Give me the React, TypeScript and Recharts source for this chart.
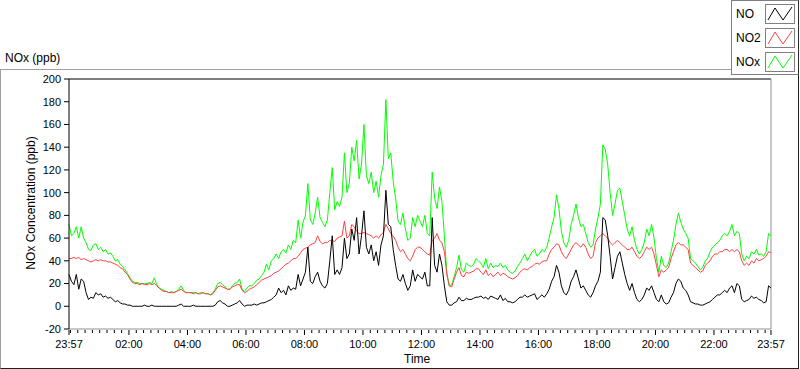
import React from 'react';
import { LineChart, Line, XAxis, YAxis, ReferenceLine } from 'recharts';

// minutes after 23:57, one reading every 5 min
const NO = [
  28, 22, 19, 28, 15, 24, 22, 12, 6, 8, 7, 12,
  10, 11, 8, 9, 7, 8, 6, 4, 5, 3, 2, 2,
  1, 1, 0, 0, 0, 0, 0, 1, 0, 0, 1, 0,
  0, 0, 0, 0, 0, 0, 0, 0, 0, 1, 2, 0,
  0, 0, 0, 1, 0, 0, 0, 0, 0, 0, 0, 0,
  1, 4, 5, 3, 2, 0, 0, 1, 2, 3, 5, 2,
  0, 1, 1, 1, 2, 1, 2, 3, 3, 4, 5, 6,
  8, 10, 16, 12, 14, 10, 18, 14, 16, 15, 28, 18,
  24, 30, 52, 22, 20, 26, 30, 22, 18, 16, 20, 40,
  62, 28, 32, 28, 34, 60, 42, 46, 68, 58, 78, 46,
  62, 84, 52, 46, 54, 40, 48, 36, 54, 62, 102, 72,
  70, 50, 36, 24, 22, 28, 20, 14, 18, 32, 22, 28,
  26, 24, 30, 18, 18, 78, 36, 30, 46, 36, 18, 4,
  1, 1, 3, 4, 8, 5, 5, 7, 6, 6, 7, 8,
  8, 9, 7, 8, 6, 9, 8, 7, 6, 10, 5, 7,
  4, 4, 3, 4, 6, 8, 8, 10, 8, 9, 10, 11,
  6, 8, 10, 8, 11, 15, 22, 26, 36, 30, 18, 12,
  10, 14, 22, 26, 32, 24, 16, 18, 14, 10, 8, 12,
  18, 22, 30, 78, 76, 62, 44, 24, 34, 44, 48, 38,
  28, 20, 14, 20, 12, 6, 4, 6, 10, 16, 14, 18,
  12, 6, 4, 10, 4, 2, 3, 8, 12, 20, 24, 22,
  16, 14, 10, 4, 3, 2, 2, 1, 1, 2, 3, 4,
  6, 8, 10, 10, 12, 14, 12, 16, 18, 12, 20, 18,
  6, 4, 5, 6, 9, 7, 8, 6, 5, 3, 4, 18, 16
];

const NO2 = [
  42, 42, 43, 42, 43, 41, 42, 41, 40, 39, 40, 41,
  40, 41, 40, 40, 39, 39, 38, 37, 36, 34, 33, 30,
  28, 24, 21, 20, 20, 19, 20, 19, 19, 20, 19, 20,
  18, 16, 14, 13, 13, 12, 12, 12, 13, 14, 15, 13,
  12, 12, 12, 11, 12, 11, 11, 12, 11, 11, 10, 11,
  14, 17, 18, 17, 16, 15, 15, 17, 18, 19, 19, 14,
  12, 13, 15, 16, 17, 19, 21, 23, 24, 25, 26, 27,
  29, 30, 31, 33, 35, 37, 38, 40, 42, 42, 44, 47,
  50, 51, 52, 54, 55, 56, 62, 57, 55, 56, 56, 58,
  58, 57, 60, 61, 62, 75, 60, 62, 72, 70, 66, 64,
  64, 65, 64, 63, 62, 60, 62, 60, 63, 65, 72, 68,
  64, 62, 58, 52, 48, 50, 46, 42, 40, 44, 50, 52,
  52, 50, 48, 46, 45, 58, 60, 64, 58, 56, 48, 28,
  18, 17, 24, 30, 34, 27, 26, 30, 29, 30, 31, 33,
  33, 30, 28, 32, 27, 29, 26, 28, 30, 27, 29, 28,
  26, 25, 24, 25, 27, 30, 32, 33, 32, 34, 35, 37,
  38, 37, 39, 40, 40, 46, 50, 52, 55, 54, 48, 44,
  42, 46, 50, 54, 56, 54, 52, 55, 52, 46, 42, 44,
  56, 60, 62, 64, 62, 60, 56, 54, 56, 58, 56, 54,
  52, 50, 50, 52, 48, 44, 42, 44, 48, 52, 50, 52,
  46, 36, 26, 32, 30, 32, 34, 42, 48, 54, 56, 54,
  54, 52, 50, 38, 36, 34, 32, 30, 31, 36, 38, 40,
  44, 46, 46, 48, 48, 50, 50, 48, 50, 48, 50, 48,
  40, 36, 38, 36, 40, 38, 42, 40, 41, 42, 44, 48, 47
];

const NOx = [
  72, 62, 64, 70, 60, 70, 60, 56, 50, 49, 54, 55,
  50, 52, 48, 50, 46, 47, 44, 40, 41, 37, 35, 32,
  29, 25, 22, 21, 21, 20, 20, 20, 20, 21, 20, 25,
  19, 16, 15, 14, 13, 12, 13, 12, 13, 15, 18, 14,
  12, 12, 12, 12, 12, 11, 12, 12, 11, 11, 10, 12,
  15, 20, 21, 19, 17, 15, 15, 18, 20, 21, 24, 15,
  13, 16, 18, 18, 20, 23, 24, 27, 30, 37, 32, 40,
  42, 46, 42, 48, 50, 47, 54, 50, 58, 56, 76, 60,
  74, 80, 108, 76, 72, 82, 96, 78, 74, 70, 76, 100,
  122, 85, 92, 88, 96, 135, 100, 108, 140, 128, 146, 112,
  125, 160, 115, 108, 118, 100, 110, 96, 115, 125, 182, 130,
  135, 110, 95, 75, 72, 82, 68, 58, 60, 78, 70, 80,
  75, 70, 80, 64, 62, 118, 95, 86, 105, 92, 62, 30,
  18, 19, 26, 34, 45, 32, 30, 38, 36, 35, 37, 42,
  40, 38, 34, 42, 33, 38, 34, 36, 35, 38, 34, 36,
  32, 30, 29, 31, 35, 38, 42, 46, 40, 44, 48, 50,
  44, 46, 50, 48, 52, 60, 70, 78, 98, 86, 66, 56,
  52, 58, 72, 80, 90, 78, 70, 72, 64, 56, 52, 54,
  68, 78, 90, 142, 138, 125, 100, 80, 90, 102, 104, 92,
  80, 68, 62, 70, 58, 50, 46, 50, 56, 68, 62, 72,
  60, 42, 30, 44, 36, 34, 38, 48, 58, 72, 82, 74,
  68, 64, 60, 42, 40, 38, 35, 32, 34, 40, 42, 48,
  52, 54, 56, 58, 62, 64, 62, 66, 72, 62, 66, 64,
  46, 40, 44, 42, 48, 46, 50, 45, 46, 44, 48, 64, 62
];

const timeTicks = [0, 123, 243, 363, 483, 603, 723, 843, 963, 1083, 1203, 1323, 1440];
const timeLabels = ['23:57', '02:00', '04:00', '06:00', '08:00', '10:00', '12:00', '14:00', '16:00', '18:00', '20:00', '22:00', '23:57'];
const yTicks = [-20, 0, 20, 40, 60, 80, 100, 120, 140, 160, 180, 200];

const series = [
  { key: 'NO', color: '#000000' },
  { key: 'NO2', color: '#ff4040' },
  { key: 'NOx', color: '#00ff00' }
];

const data = NO.map((v, i) => ({ t: i * 5, NO: v, NO2: NO2[i], NOx: NOx[i] }));

// 15 minute minor ticks from 00:00
const minorTicks: number[] = [];
for (let m = 3; m < 1440; m += 15) minorTicks.push(m);
const allTicks = Array.from(new Set([...timeTicks, ...minorTicks])).sort((a, b) => a - b);

const font = '"Liberation Sans", Arial, sans-serif';

const TimeTick = (props: any) => {
  const { x, y, payload } = props;
  const idx = timeTicks.indexOf(payload.value);
  if (idx < 0) {
    return <line x1={x} y1={y + 1} x2={x} y2={y + 4} stroke="#000" />;
  }
  return (
    <g>
      <line x1={x} y1={y + 1} x2={x} y2={y + 6} stroke="#000" />
      <text x={x} y={y + 19} textAnchor="middle" fontSize={11} fontFamily={font} fill="#000">
        {timeLabels[idx]}
      </text>
    </g>
  );
};

const LegendBox = () => (
  <div style={{
    position: 'absolute', left: 731, top: 0, width: 66, height: 73,
    border: '1px solid #808080', borderRight: '1px solid #303030', background: '#fff'
  }}>
    {series.map((s, i) => (
      <div key={s.key} style={{ position: 'absolute', left: 4, top: 3 + i * 24, height: 20, width: 62 }}>
        <span style={{ position: 'absolute', left: 0, top: 3, fontSize: 12, fontFamily: font }}>{s.key}</span>
        <svg width={31} height={21} style={{ position: 'absolute', left: 29, top: 0 }}>
          <rect x={0.5} y={0.5} width={29} height={19} fill="#fff" stroke="#808080" />
          <polyline points="3,16 10,4 18,16 27,3" fill="none" stroke={s.color} strokeWidth={1} />
        </svg>
      </div>
    ))}
  </div>
);

const App: React.FC = () => {
  return (
    <div style={{ position: 'relative', width: 800, height: 369, background: '#fff', fontFamily: font }}>
      <style>{'body{margin:0;}'}</style>
      <div style={{
        position: 'absolute', left: 0, top: 69, width: 797, height: 298,
        borderTop: '1px solid #a0a0a0', borderLeft: '1px solid #a0a0a0',
        borderBottom: '1px solid #202020', borderRight: '1px solid #202020'
      }} />
      <div style={{ position: 'absolute', left: 5, top: 51, fontSize: 12 }}>NOx (ppb)</div>
      <LegendBox />
      <div style={{ position: 'absolute', left: 0, top: 0 }}>
        <LineChart width={800} height={369} data={data} margin={{ top: 79, right: 29, bottom: 10, left: 0 }}>
          <XAxis
            dataKey="t"
            type="number"
            domain={[0, 1440]}
            ticks={allTicks}
            interval={0}
            tick={<TimeTick />}
            tickLine={false}
            tickSize={0}
            tickMargin={0}
            height={30}
            axisLine={{ stroke: '#909090' }}
          />
          <YAxis
            type="number"
            domain={[-20, 200]}
            ticks={yTicks}
            interval={0}
            allowDataOverflow
            width={69}
            tickSize={5}
            tickMargin={3}
            tick={{ fontSize: 11, fill: '#000', fontFamily: font }}
            tickLine={{ stroke: '#000' }}
            axisLine={{ stroke: '#000' }}
          />
          <ReferenceLine y={200} stroke="#000" />
          <ReferenceLine x={1440} stroke="#909090" />
          {[...series].reverse().map(s => (
            <Line
              key={s.key}
              type="linear"
              dataKey={s.key}
              stroke={s.color}
              strokeWidth={1}
              dot={false}
              isAnimationActive={false}
            />
          ))}
        </LineChart>
      </div>
      <div style={{
        position: 'absolute', left: -69, top: 196, width: 200, textAlign: 'center',
        fontSize: 12, transform: 'rotate(-90deg)'
      }}>NOx Concentration (ppb)</div>
      <div style={{ position: 'absolute', left: 404, top: 352, fontSize: 12 }}>Time</div>
    </div>
  );
};

export default App;
